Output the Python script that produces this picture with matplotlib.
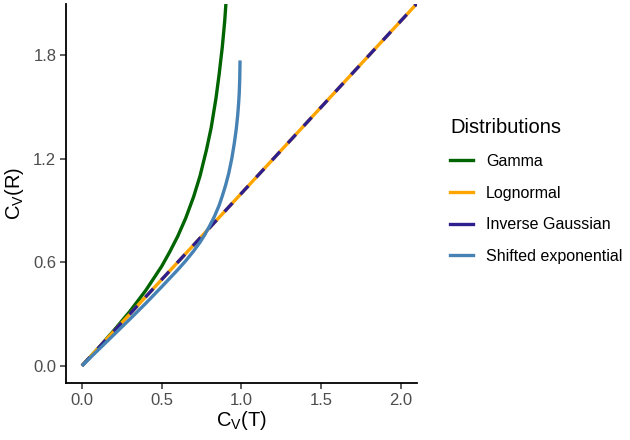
import numpy as np
import matplotlib
matplotlib.use('Agg')
import matplotlib.pyplot as plt
from matplotlib.lines import Line2D

plt.rcParams['font.family'] = ['Liberation Sans', 'DejaVu Sans']
plt.rcParams['mathtext.fontset'] = 'custom'
plt.rcParams['mathtext.rm'] = 'Liberation Sans'
plt.rcParams['mathtext.it'] = 'Liberation Sans'

# data
gamma_x = [0, 0.1, 0.2, 0.3, 0.4, 0.5, 0.55, 0.6, 0.65, 0.7, 0.74, 0.78, 0.81, 0.84, 0.86, 0.88, 0.895, 0.91]
gamma_y = [0, 0.10, 0.205, 0.315, 0.437, 0.577, 0.66, 0.75, 0.855, 0.98, 1.10, 1.25, 1.38, 1.55, 1.69, 1.85, 2.0, 2.2]

lognormal_x = [0, 2.2]
lognormal_y = [0, 2.2]

invgauss_x = [0, 2.2]
invgauss_y = [0, 2.2]

shiftexp_x = [0, 0.1, 0.2, 0.3, 0.4, 0.5, 0.6, 0.65, 0.7, 0.74, 0.77, 0.8, 0.83, 0.86, 0.88,
              0.9, 0.92, 0.94, 0.955, 0.967, 0.976, 0.982, 0.986, 0.989, 0.991]
shiftexp_y = [0, 0.09, 0.18, 0.27, 0.362, 0.458, 0.556, 0.608, 0.665, 0.716, 0.76, 0.81, 0.865, 0.93, 0.985,
              1.045, 1.115, 1.205, 1.29, 1.37, 1.45, 1.52, 1.58, 1.66, 1.77]

names = ['Gamma', 'Lognormal', 'Inverse Gaussian', 'Shifted exponential']
colors = ['#006400', '#FFA500', '#2E1F8E', '#4682B4']

x_ticks = [0.0, 0.5, 1.0, 1.5, 2.0]
y_ticks = [0.0, 0.6, 1.2, 1.8]

fig = plt.figure(figsize=(6.3, 4.4), dpi=100)
ax = fig.add_axes([0.1048, 0.1295, 0.557, 0.8625])

lw = 2.4
ax.plot(gamma_x, gamma_y, color=colors[0], lw=lw, solid_capstyle='butt', solid_joinstyle='round')
ax.plot(lognormal_x, lognormal_y, color=colors[1], lw=lw, solid_capstyle='butt')
ax.plot(invgauss_x, invgauss_y, color=colors[2], lw=lw, dashes=(3.5, 3.5), dash_capstyle='butt')
ax.plot(shiftexp_x, shiftexp_y, color=colors[3], lw=lw, solid_capstyle='butt', solid_joinstyle='round')

ax.set_xlim(-0.1, 2.1)
ax.set_ylim(-0.1, 2.1)
ax.set_xticks(x_ticks)
ax.set_xticklabels([f'{t:.1f}' for t in x_ticks])
ax.set_yticks(y_ticks)
ax.set_yticklabels([f'{t:.1f}' for t in y_ticks])

for s in ['top', 'right']:
    ax.spines[s].set_visible(False)
for s in ['left', 'bottom']:
    ax.spines[s].set_linewidth(1.3)
    ax.spines[s].set_color('black')
ax.tick_params(length=4, width=1.1, color='#333333', labelcolor='#4D4D4D', labelsize=12, pad=3)

ax.set_xlabel(r'$\mathrm{C_V(T)}$', fontsize=14.5, labelpad=1)
ax.set_ylabel(r'$\mathrm{C_V(R)}$', fontsize=14.5, labelpad=5)

handles = [Line2D([], [], color=c, lw=lw) for c in colors]
leg = fig.legend(handles, names, title='Distributions', loc='upper left',
                 bbox_to_anchor=(0.697, 0.757), frameon=False, fontsize=11.5,
                 title_fontsize=14.5, handlelength=1.4, handletextpad=0.85,
                 labelspacing=1.05, borderpad=0.2)
leg._legend_box.align = 'left'
leg._legend_box.sep = 12

fig.savefig('out.png', dpi=100)
